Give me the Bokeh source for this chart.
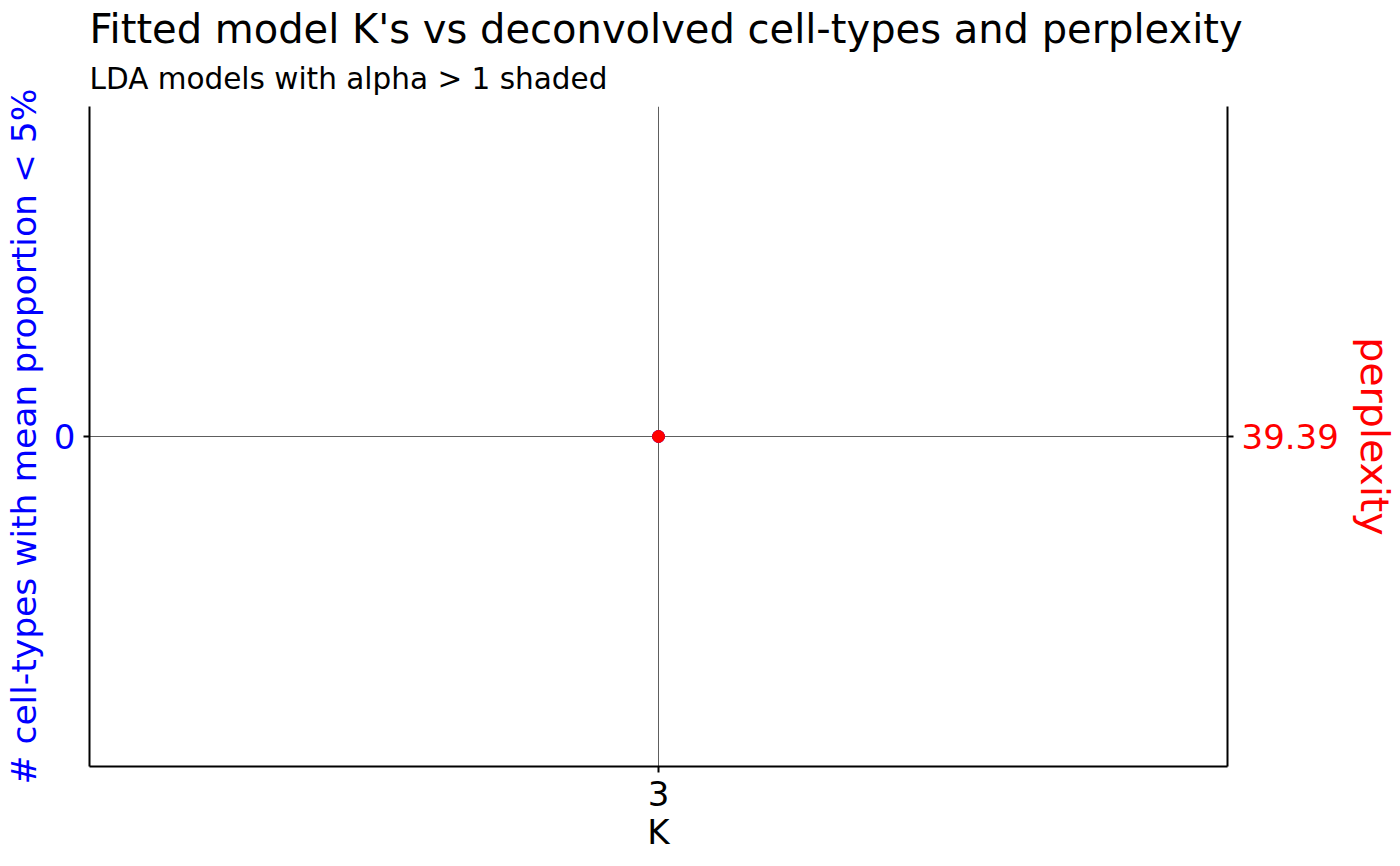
from bokeh.plotting import figure
from bokeh.models import Range1d, LinearAxis, FixedTicker, Title, ColumnDataSource
from bokeh.embed import file_html
from bokeh.resources import INLINE

# ---- data ----
K = [3]
n_celltypes_low = [0]
perplexity = [39.39]
x_ticks = [3]
left_ticks = [0]
right_ticks = [39.39]

title_text = "Fitted model K's vs deconvolved cell-types and perplexity"
subtitle_text = "LDA models with alpha > 1 shaded"
left_label = "# cell-types with mean proportion < 5%"
right_label = "perplexity"
x_label = "K"

FONT = "DejaVu Sans"
BLUE = "#0000FF"
RED = "#FF0000"

src = ColumnDataSource(dict(K=K, n=n_celltypes_low, perp=perplexity))

p = figure(frame_width=1138, frame_height=660, output_backend="svg", toolbar_location=None,
           x_range=Range1d(K[0] - 0.5, K[0] + 0.5),
           y_range=Range1d(n_celltypes_low[0] - 1, n_celltypes_low[0] + 1),
           min_border_left=82, min_border_right=164, min_border_top=106, min_border_bottom=84)
p.extra_y_ranges = {"perp": Range1d(perplexity[0] - 1, perplexity[0] + 1)}

p.outline_line_color = None
p.background_fill_color = "white"
p.border_fill_color = "white"

# titles
p.add_layout(Title(text=subtitle_text, text_font=FONT, text_font_size="29.5px",
                   text_font_style="normal", text_color="black", standoff=21,
                   text_line_height=1.0), "above")
p.add_layout(Title(text=title_text, text_font=FONT, text_font_size="40px",
                   text_font_style="normal", text_color="black", standoff=-5), "above")

def style_axis(ax, color, label_size):
    ax.axis_line_color = "black"
    ax.axis_line_width = 2
    ax.major_tick_line_color = "black"
    ax.major_tick_line_width = 2
    ax.major_tick_out = 6
    ax.major_tick_in = 0
    ax.minor_tick_line_color = None
    ax.major_label_text_font = FONT
    ax.major_label_text_font_size = "34px"
    ax.major_label_text_color = color
    ax.major_label_standoff = 8
    ax.axis_label_text_font = FONT
    ax.axis_label_text_font_size = label_size
    ax.axis_label_text_font_style = "normal"
    ax.axis_label_text_color = color
    ax.axis_label_standoff = 10

# x axis
xa = p.xaxis[0]
xa.ticker = FixedTicker(ticks=x_ticks)
xa.axis_label = x_label
style_axis(xa, "black", "34px")
xa.major_label_standoff = 8
xa.axis_label_standoff = 3

# left axis
ya = p.yaxis[0]
ya.ticker = FixedTicker(ticks=left_ticks)
ya.axis_label = left_label
style_axis(ya, BLUE, "34.5px")
ya.axis_label_standoff = 7

# right axis
ra = LinearAxis(y_range_name="perp", ticker=FixedTicker(ticks=right_ticks), axis_label=right_label)
style_axis(ra, RED, "39.5px")
p.add_layout(ra, "right")

# grids
p.xgrid.grid_line_color = "#5e5e5e"
p.xgrid.grid_line_width = 1
p.ygrid.grid_line_color = "#5e5e5e"
p.ygrid.grid_line_width = 1

# points
p.scatter("K", "n", source=src, size=12, fill_color=BLUE, line_color=BLUE)
p.scatter("K", "perp", source=src, y_range_name="perp", size=12, fill_color=RED, line_color=RED)

open("out.html", "w").write(file_html(p, INLINE))
